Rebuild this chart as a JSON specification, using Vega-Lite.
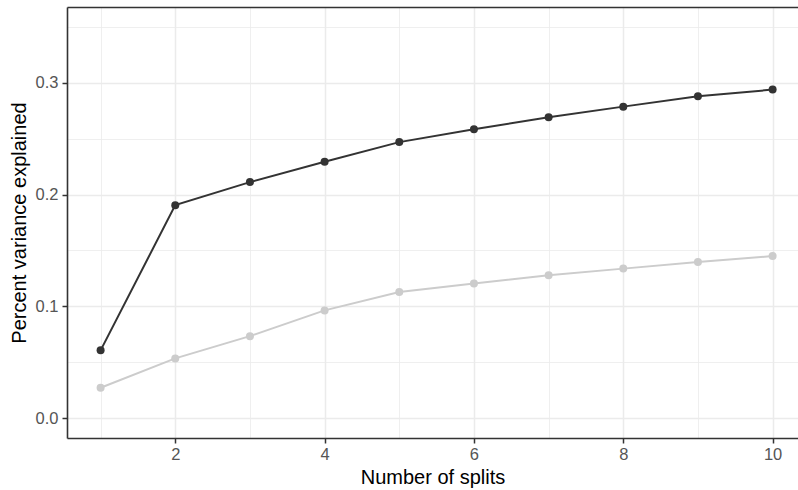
{
  "$schema": "https://vega.github.io/schema/vega-lite/v6.json",
  "width": 731,
  "height": 431,
  "autosize": {"type": "none"},
  "padding": {"left": 67, "top": 7, "right": 0, "bottom": 52},
  "background": "white",
  "config": {
    "view": {"stroke": null},
    "font": "Liberation Sans",
    "axis": {
      "labelFont": "Liberation Sans",
      "titleFont": "Liberation Sans",
      "labelFontSize": 16.5,
      "titleFontSize": 20,
      "labelColor": "#555555",
      "titleColor": "#000000",
      "titleFontWeight": "normal",
      "gridColor": "#EBEBEB",
      "tickColor": "#333333",
      "domainColor": "#333333"
    }
  },
  "data": {
    "values": [
      {"splits": 1, "series": "light", "pve": 0.0274},
      {"splits": 2, "series": "light", "pve": 0.0536},
      {"splits": 3, "series": "light", "pve": 0.0735},
      {"splits": 4, "series": "light", "pve": 0.0965},
      {"splits": 5, "series": "light", "pve": 0.1129},
      {"splits": 6, "series": "light", "pve": 0.1206},
      {"splits": 7, "series": "light", "pve": 0.1278},
      {"splits": 8, "series": "light", "pve": 0.1338},
      {"splits": 9, "series": "light", "pve": 0.1397},
      {"splits": 10, "series": "light", "pve": 0.1450},
      {"splits": 1, "series": "dark", "pve": 0.0608},
      {"splits": 2, "series": "dark", "pve": 0.1905},
      {"splits": 3, "series": "dark", "pve": 0.2111},
      {"splits": 4, "series": "dark", "pve": 0.2292},
      {"splits": 5, "series": "dark", "pve": 0.2468},
      {"splits": 6, "series": "dark", "pve": 0.2583},
      {"splits": 7, "series": "dark", "pve": 0.2690},
      {"splits": 8, "series": "dark", "pve": 0.2785},
      {"splits": 9, "series": "dark", "pve": 0.2878},
      {"splits": 10, "series": "dark", "pve": 0.2937}
    ]
  },
  "resolve": {"axis": {"x": "independent", "y": "independent"}},
  "layer": [
    {
      "mark": {"type": "line", "strokeWidth": 2},
      "encoding": {
        "x": {
          "field": "splits", "type": "quantitative",
          "scale": {"domain": [0.55, 10.34], "nice": false, "zero": false},
          "axis": {"orient": "top", "values": [1, 3, 5, 7, 9], "grid": true, "gridWidth": 0.8,
                   "labels": false, "ticks": false, "domain": true, "domainWidth": 1.6, "title": null}
        },
        "y": {
          "field": "pve", "type": "quantitative",
          "scale": {"domain": [-0.0175, 0.3675], "nice": false, "zero": false},
          "axis": {"orient": "right", "values": [0.05, 0.15, 0.25, 0.35], "grid": true, "gridWidth": 0.8,
                   "labels": false, "ticks": false, "domain": false, "title": null}
        },
        "color": {
          "field": "series", "type": "nominal",
          "scale": {"domain": ["light", "dark"], "range": ["#CCCCCC", "#333333"]},
          "legend": null
        }
      }
    },
    {
      "mark": {"type": "point", "filled": true, "size": 64, "opacity": 1},
      "encoding": {
        "x": {
          "field": "splits", "type": "quantitative",
          "axis": {"orient": "bottom", "values": [2, 4, 6, 8, 10], "grid": true, "gridWidth": 1.5,
                   "tickSize": 5, "tickWidth": 1.5, "labelPadding": 3, "domainWidth": 1.6,
                   "title": "Number of splits", "titlePadding": 5}
        },
        "y": {
          "field": "pve", "type": "quantitative",
          "axis": {"orient": "left", "values": [0, 0.1, 0.2, 0.3], "format": ".1f", "grid": true, "gridWidth": 1.5,
                   "tickSize": 5, "tickWidth": 1.5, "labelPadding": 4, "domainWidth": 1.6,
                   "title": "Percent variance explained", "titlePadding": 6}
        },
        "color": {
          "field": "series", "type": "nominal",
          "legend": null
        }
      }
    }
  ]
}
